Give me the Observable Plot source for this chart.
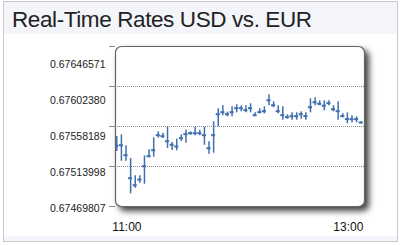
<!DOCTYPE html>
<html><head><meta charset="utf-8">
<script src="https://cdn.jsdelivr.net/npm/d3@7"></script>
<script src="https://cdn.jsdelivr.net/npm/@observablehq/plot@0.6"></script>
<style>
html,body{margin:0;padding:0;background:#fff;}
#wrap{position:relative;width:400px;height:245px;overflow:hidden;font-family:"Liberation Sans",Arial,sans-serif;}
#box{position:absolute;left:3px;top:1px;width:393px;height:239px;border:1px solid #c9c9c9;background:#fff;}
#head{position:absolute;left:0;top:0;width:393px;height:32px;background:#f4f5fa;}
#foot{position:absolute;left:0;bottom:0;width:393px;height:5px;background:#f4f5fa;}
#title{position:absolute;left:12px;top:9px;font-size:22.5px;line-height:22.5px;letter-spacing:-0.4px;color:#222;white-space:nowrap;}
#chart{position:absolute;left:0;top:0;}
#chart svg{background:transparent !important;}
#chart svg [aria-label="frame"]{filter:drop-shadow(4px 4px 3px rgba(0,0,0,0.75));}
</style>
</head><body>
<div id="wrap">
  <div id="box"><div id="head"></div><div id="foot"></div></div>
  <div id="title">Real-Time Rates USD vs. EUR</div>
  <div id="chart"></div>
</div>
<script>
const yTicks = [0.67469807, 0.67513998, 0.67558189, 0.67602380, 0.67646571];
const xTickLabels = ["11:00", "13:00"];
const startTime = "10:54:30";
const stepSeconds = 150;
const highs = [0.675471,0.675490,0.675369,0.675228,0.675037,0.675037,0.675258,0.675324,0.675457,0.675523,
  0.675508,0.675574,0.675405,0.675442,0.675490,0.675541,0.675523,0.675574,0.675541,0.675574,
  0.675413,0.675634,0.675777,0.675811,0.675740,0.675800,0.675822,0.675811,0.675811,0.675833,
  0.675733,0.675777,0.675800,0.675932,0.675855,0.675811,0.675800,0.675711,0.675733,0.675733,
  0.675744,0.675733,0.675888,0.675899,0.675866,0.675866,0.675866,0.675811,0.675855,0.675722,
  0.675733,0.675700,0.675689,0.675634];
const lows = [0.675306,0.675199,0.675199,0.674838,0.674900,0.674955,0.674944,0.675236,0.675243,0.675453,
  0.675449,0.675339,0.675317,0.675313,0.675419,0.675397,0.675486,0.675479,0.675479,0.675375,
  0.675276,0.675287,0.675579,0.675700,0.675689,0.675689,0.675733,0.675744,0.675733,0.675733,
  0.675689,0.675722,0.675722,0.675811,0.675788,0.675722,0.675651,0.675663,0.675651,0.675651,
  0.675663,0.675651,0.675733,0.675811,0.675811,0.675755,0.675811,0.675744,0.675651,0.675678,
  0.675612,0.675623,0.675623,0.675612];
const closes = [0.675369,0.675375,0.675265,0.675011,0.674933,0.674996,0.675143,0.675254,0.675320,0.675486,
  0.675475,0.675419,0.675380,0.675361,0.675453,0.675497,0.675508,0.675508,0.675508,0.675486,
  0.675342,0.675486,0.675718,0.675740,0.675718,0.675740,0.675784,0.675784,0.675762,0.675784,
  0.675707,0.675740,0.675751,0.675872,0.675817,0.675751,0.675707,0.675685,0.675696,0.675696,
  0.675718,0.675696,0.675795,0.675850,0.675833,0.675811,0.675839,0.675773,0.675751,0.675696,
  0.675663,0.675663,0.675663,0.675626];

const parseT = s => { const [h,m,sec] = s.split(":").map(Number); return new Date(2012,0,1,h,m,sec||0); };
const t0 = parseT(startTime);
const data = highs.map((h,i) => ({t: new Date(+t0 + i*stepSeconds*1000), high: h, low: lows[i], close: closes[i]}));
const xDomain = [parseT("10:53:48"), parseT("13:08:47")];
const color = "#3f6fae";
const half = 66000;
const v0 = yTicks[0];

const chart = Plot.plot({
  width: 400, height: 245,
  marginLeft: 115, marginRight: 36, marginTop: 46, marginBottom: 39,
  style: {background: "transparent", fontFamily: "'Liberation Sans', Arial, sans-serif", fontSize: "10.5px", color: "#222"},
  x: {type: "time", domain: xDomain, label: null},
  y: {domain: [yTicks[0], yTicks[4]], label: null},
  marks: [
    Plot.frame({fill: "white", stroke: "#666", strokeWidth: 1.2, rx: 6}),
    Plot.gridY(yTicks.slice(1,4), {stroke: "#8a8a8a", strokeOpacity: 1, strokeDasharray: "1,1"}),
    Plot.axisY(yTicks, {tickSize: 6, stroke: "#888", tickFormat: () => ""}),
    Plot.text(yTicks, {y: d => v0 + (d - v0) * 0.9, text: d => d.toFixed(8), frameAnchor: "left", textAnchor: "end", dx: -10, dy: 2, fontSize: 10.5, fill: "#222"}),
    Plot.axisX(xTickLabels.map(parseT), {tickSize: 0, tickPadding: 16, tickFormat: d3.timeFormat("%H:%M"), fontSize: 12, fill: "#111"}),
    Plot.ruleX(data, {x: "t", y1: "low", y2: "high", stroke: color, strokeWidth: 1.5, clip: true}),
    Plot.ruleY(data, {y: "close", x1: d => new Date(+d.t - half), x2: d => new Date(+d.t + half), stroke: color, strokeWidth: 2, clip: true})
  ]
});
document.getElementById("chart").appendChild(chart);
</script>
</body></html>
